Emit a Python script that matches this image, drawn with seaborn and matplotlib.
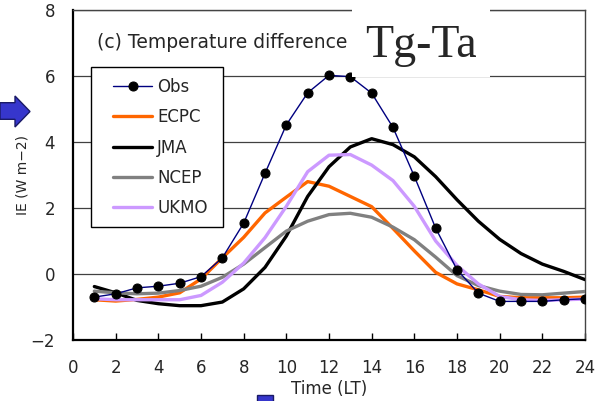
import matplotlib
matplotlib.use("Agg")
import matplotlib.pyplot as plt
from matplotlib.patches import Polygon, Rectangle
import seaborn as sns
import pandas as pd

hours = list(range(1, 25))
obs = [-0.70, -0.60, -0.42, -0.37, -0.28, -0.08, 0.49, 1.54, 3.05, 4.52, 5.49, 6.02,
       5.98, 5.48, 4.44, 2.96, 1.39, 0.13, -0.58, -0.83, -0.83, -0.83, -0.78, -0.75]
ecpc = [-0.78, -0.82, -0.77, -0.70, -0.57, -0.15, 0.49, 1.11, 1.85, 2.33, 2.80, 2.66,
        2.35, 2.04, 1.38, 0.70, 0.05, -0.30, -0.48, -0.68, -0.72, -0.72, -0.72, -0.70]
jma = [-0.38, -0.57, -0.80, -0.90, -0.96, -0.96, -0.85, -0.45, 0.20, 1.15, 2.35, 3.25,
       3.85, 4.10, 3.92, 3.55, 2.95, 2.25, 1.60, 1.05, 0.62, 0.30, 0.08, -0.17]
ncep = [-0.52, -0.57, -0.60, -0.58, -0.50, -0.37, -0.10, 0.30, 0.80, 1.30, 1.60, 1.80,
        1.84, 1.72, 1.42, 1.04, 0.51, -0.05, -0.35, -0.52, -0.62, -0.63, -0.58, -0.53]
ukmo = [-0.75, -0.78, -0.78, -0.78, -0.78, -0.65, -0.25, 0.33, 1.10, 2.05, 3.10, 3.60,
        3.62, 3.30, 2.83, 2.05, 1.00, 0.26, -0.30, -0.68, -0.78, -0.80, -0.78, -0.76]

x_ticks = list(range(0, 25, 2))
y_ticks = list(range(-2, 9, 2))

sns.set_theme(style="white")
plt.rcParams['font.family'] = ['DejaVu Sans']

W, H = 605, 401
fig = plt.figure(figsize=(W / 100, H / 100), dpi=100)
ax = fig.add_axes([73 / W, 1 - 340 / H, (585 - 73) / W, (340 - 10) / H])

models = [("ECPC", ecpc, "#FF6600"), ("JMA", jma, "#000000"),
          ("NCEP", ncep, "#808080"), ("UKMO", ukmo, "#CC99FF")]
handles = {}
for name, vals, col in models:
    df = pd.DataFrame({"Time": hours, "IE": vals})
    sns.lineplot(data=df, x="Time", y="IE", color=col, linewidth=2.4, ax=ax,
                 label=name, zorder=3)
    handles[name] = ax.lines[-1]

dfo = pd.DataFrame({"Time": hours, "IE": obs})
sns.lineplot(data=dfo, x="Time", y="IE", color="#000080", linewidth=1.0, marker="o",
             markersize=6.5, markerfacecolor="black", markeredgecolor="black",
             ax=ax, label="Obs", zorder=4)
handles["Obs"] = ax.lines[-1]

ax.set_xlim(0, 24)
ax.set_ylim(-2, 8)
ax.set_xticks(x_ticks)
ax.set_yticks(y_ticks)
ax.set_yticklabels([str(v).replace("-", "\u2212") for v in y_ticks])
ax.tick_params(axis="x", direction="in", length=5, width=1, color="black",
               labelsize=12, pad=14, bottom=True)
ax.tick_params(axis="y", length=0, labelsize=12, pad=13)
ax.yaxis.grid(True, color="#404040", linewidth=0.9)
ax.xaxis.grid(False)
ax.set_axisbelow(True)
for s in ["left", "bottom"]:
    ax.spines[s].set_color("black")
    ax.spines[s].set_linewidth(1.6)
for s in ["top", "right"]:
    ax.spines[s].set_color("#444444")
    ax.spines[s].set_linewidth(1.0)

ax.set_xlabel("Time (LT)", fontsize=12, labelpad=2)
ax.set_ylabel("IE (W m\u22122)", fontsize=10)
ax.yaxis.set_label_coords((29 - 73) / 512, 0.5)

# legend frame drawn separately to match its padding
frame = Rectangle((91 / W, 1 - 226.7 / H), (223 - 91) / W, (226.7 - 66.7) / H,
                  transform=fig.transFigure, facecolor="white",
                  edgecolor="black", linewidth=1.0, zorder=5, clip_on=False)
ax.add_patch(frame)
leg = ax.legend([handles[n] for n in ["Obs", "ECPC", "JMA", "NCEP", "UKMO"]],
                ["Obs", "ECPC", "JMA", "NCEP", "UKMO"],
                loc="upper left", bbox_to_anchor=(113 / W, 1 - 78 / H),
                bbox_transform=fig.transFigure, borderaxespad=0, borderpad=0,
                fontsize=12, labelspacing=0.74, handlelength=2.35, handletextpad=0.3,
                frameon=False)
leg.set_zorder(6)

ax.text(97 / W, 1 - 43 / H, "(c) Temperature difference", transform=fig.transFigure,
        fontsize=13.5, va="center", ha="left", zorder=7)

# white box with Tg-Ta
fig.patches.append(Rectangle((352 / W, 1 - 77 / H), (490 - 352) / W, (77 - 8) / H,
                             transform=fig.transFigure, facecolor="white",
                             edgecolor="none", zorder=8))
fig.text(421 / W, 1 - 46 / H, "Tg-Ta", family=["Liberation Serif"], fontsize=33,
         ha="center", va="center", zorder=9)

# blue arrow on the left
arrow_px = [(0, 102.7), (15, 102.7), (15, 96), (30, 111.5), (15, 127), (15, 119.3), (0, 119.3)]
fig.patches.append(Polygon([(px / W, 1 - py / H) for px, py in arrow_px], closed=True,
                           transform=fig.transFigure, facecolor="#3636CC",
                           edgecolor="#1a1a66", linewidth=1, zorder=8))
# blue square at bottom
fig.patches.append(Rectangle((257 / W, 1 - 405 / H), 16 / W, 10 / H,
                             transform=fig.transFigure, facecolor="#3636CC",
                             edgecolor="#1a1a66", linewidth=1, zorder=8))

fig.savefig("out.png", dpi=100)
